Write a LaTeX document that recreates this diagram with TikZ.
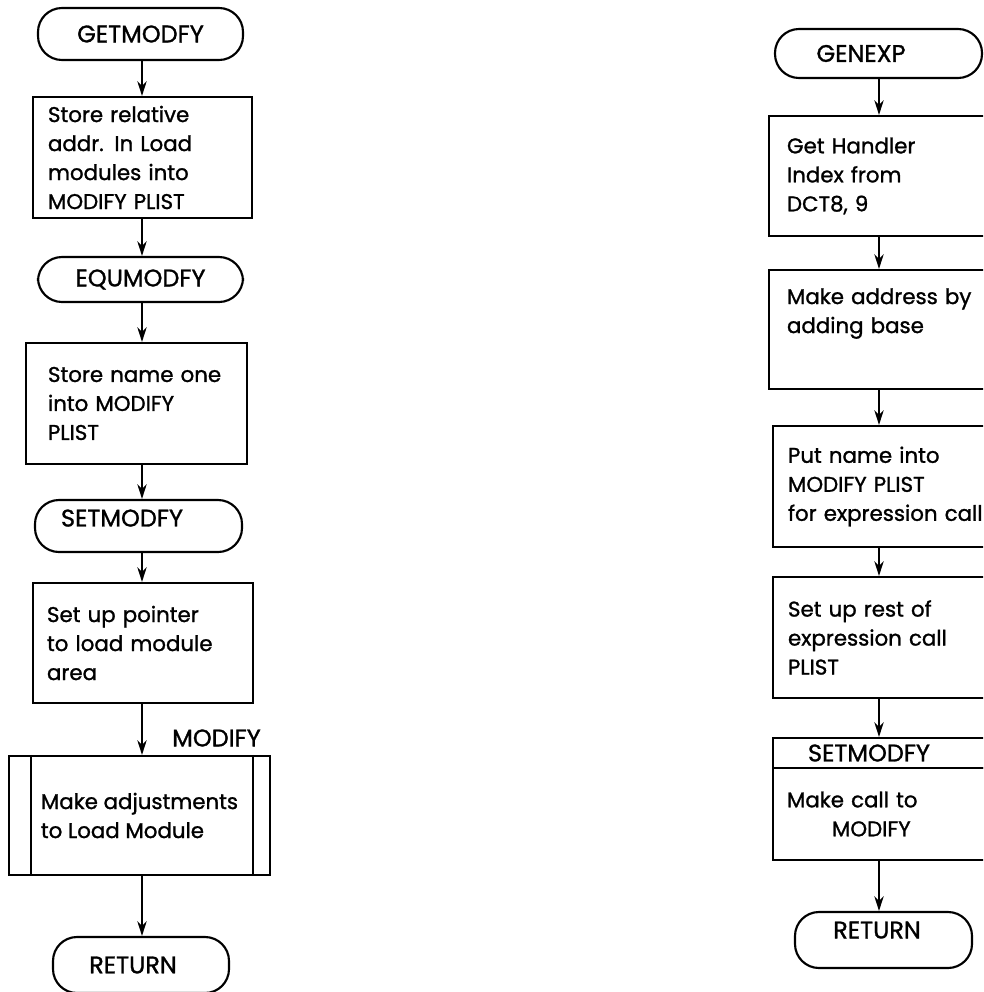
\documentclass[tikz,border=0pt]{standalone}
\usepackage{fontspec}
\setmainfont{Poppins}[FakeBold=1.2]
\usetikzlibrary{arrows.meta}
\begin{document}
\begin{tikzpicture}[x=.75pt,y=-.75pt,line width=1.6pt,
  every node/.style={font=\fontsize{16}{21.75}\selectfont},
  term/.style={draw,rounded corners=18pt,inner sep=0pt,font=\fontsize{18}{21.75}\selectfont},
  proc/.style={draw,align=left,inner ysep=0pt},
  flow/.style={-{Stealth[length=11pt,width=7pt]}}]
 \path[use as bounding box,clip] (0,0) rectangle (983,992);
 \coordinate (lcol) at (142,0);
 \coordinate (rcol) at (879,0);
 % left column
 \node[term,minimum width=153.75pt,minimum height=39pt] (getmodfy) at (140.5,34) {GETMODFY};
 \node[proc,minimum height=90.75pt,inner xsep=11.25pt,text width=141.75pt] (store) at (142.5,157.5)
  {Store relative\\addr. In Load\\modules into\\MODIFY PLIST};
 \node[term,minimum width=153.75pt,minimum height=33.75pt] (equmodfy) at (140.5,279.5) {EQUMODFY};
 \node[proc,minimum height=90.75pt,inner xsep=16.5pt,text width=132.75pt] (name) at (136.5,403.5)
  {Store name one\\into MODIFY\\PLIST};
 \node[term,minimum width=155.25pt,minimum height=39pt,text depth=12pt] (setmodfy) at (138.5,526)
  {SETMODFY\hspace*{24.75pt}};
 \node[proc,minimum height=90pt,inner xsep=10.5pt,text width=144pt] (pointer) at (143,643)
  {Set up pointer\\to load module\\area};
 \node[proc,minimum width=195.75pt,minimum height=89.25pt] (adjust) at (139.5,815.5)
  {Make adjustments\\to Load Module};
 \draw ([xshift=17.25pt]adjust.north west) -- ([xshift=17.25pt]adjust.south west);
 \draw ([xshift=-13.5pt]adjust.north east) -- ([xshift=-13.5pt]adjust.south east);
 \node[font=\fontsize{18}{21.75}\selectfont] (modlabel) at (216.5,738) {MODIFY};
 \node[term,minimum width=132pt,minimum height=42pt] (retl) at (141,965) {RETURN\hspace*{12pt}};
 \draw[flow] (getmodfy.south -| lcol) -- (store.north -| lcol);
 \draw[flow] (store.south -| lcol) -- (equmodfy.north -| lcol);
 \draw[flow] (equmodfy.south -| lcol) -- (name.north -| lcol);
 \draw[flow] (name.south -| lcol) -- (setmodfy.north -| lcol);
 \draw[flow] (setmodfy.south -| lcol) -- (pointer.north -| lcol);
 \draw[flow] (pointer.south -| lcol) -- (adjust.north -| lcol);
 \draw[flow] (adjust.south -| lcol) -- (retl.north -| lcol);
 % right column
 \node[term,minimum width=155.25pt,minimum height=36.75pt] (genexp) at (878.5,53.5) {GENEXP\hspace*{26.25pt}};
 \node[proc,minimum height=90pt,inner xsep=13.5pt,text width=176.25pt] (handler) at (904.5,176)
  {Get Handler\\Index from\\DCT8, 9};
 \node[proc,minimum height=89.25pt,inner xsep=13.5pt,text width=176.25pt] (addr) at (904.5,329.5)
  {Make address by\\adding base\\\strut};
 \node[proc,minimum height=90.75pt,inner xsep=11.25pt,text width=177.75pt] (putname) at (906.5,486.5)
  {Put name into\\MODIFY PLIST\\for expression call};
 \node[proc,minimum height=90.75pt,inner xsep=11.25pt,text width=177.75pt] (rest) at (906.5,637.5)
  {Set up rest of\\expression call\\PLIST};
 \node[proc,minimum height=22.5pt,inner xsep=26.25pt,text width=147.75pt,font=\fontsize{18}{21.75}\selectfont] (callhead) at (906.5,753) {SETMODFY};
 \node[proc,minimum height=69pt,inner xsep=10.5pt,text width=179.25pt] (call) at (906.5,814)
  {Make call to\\\hspace*{33.75pt}MODIFY};
 \node[term,minimum width=132.75pt,minimum height=42pt,text depth=15pt] (retr) at (883.5,940) {RETURN\hspace*{9.75pt}};
 \draw[flow] (genexp.south -| rcol) -- (handler.north -| rcol);
 \draw[flow] (handler.south -| rcol) -- (addr.north -| rcol);
 \draw[flow] (addr.south -| rcol) -- (putname.north -| rcol);
 \draw[flow] (putname.south -| rcol) -- (rest.north -| rcol);
 \draw[flow] (rest.south -| rcol) -- (callhead.north -| rcol);
 \draw[flow] (call.south -| rcol) -- (retr.north -| rcol);
\end{tikzpicture}
\end{document}
